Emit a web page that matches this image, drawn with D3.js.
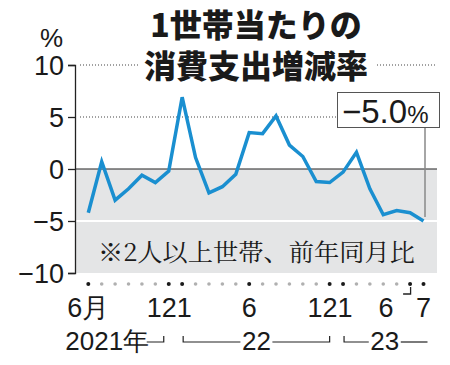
<!DOCTYPE html>
<html>
<head>
<meta charset="utf-8">
<script src="https://cdn.jsdelivr.net/npm/d3@7"></script>
<style>
  html, body { margin: 0; padding: 0; background: #fff; }
  svg { display: block; }
  .num { font-family: "Liberation Sans", Arial, sans-serif; fill: #1a1a1a; }
  .narrow { font-family: "Liberation Sans Narrow", "Arial Narrow", "Liberation Sans", sans-serif; fill: #1a1a1a; }
  .ja { font-family: "Noto Sans CJK JP", sans-serif; fill: #1a1a1a; }
</style>
</head>
<body>
<div id="chart"></div>
<script>
// 月（2021年6月〜2023年7月）
const months = [
  '21/6', '21/7', '21/8', '21/9', '21/10', '21/11', '21/12',
  '22/1', '22/2', '22/3', '22/4', '22/5', '22/6', '22/7', '22/8', '22/9', '22/10', '22/11', '22/12',
  '23/1', '23/2', '23/3', '23/4', '23/5', '23/6', '23/7'
];
// 消費支出 前年同月比（%）
const values = [
  -4.2, 0.7, -3.0, -1.9, -0.6, -1.3, -0.2,
  6.9, 1.1, -2.3, -1.7, -0.5, 3.5, 3.4, 5.1, 2.3, 1.2, -1.2, -1.3,
  -0.3, 1.6, -1.9, -4.4, -4.0, -4.2, -5.0
];
const yTicks = [10, 5, 0, -5, -10];
// 目盛りラベル（月）
const tickMonths = ['21/6', '21/12', '22/1', '22/6', '22/12', '23/1', '23/6', '23/7'];
const tickTexts  = ['6月', '12', '1', '6', '12', '1', '6', '7'];
// 年ラベル
const yearNames  = ['2021年', '22', '23'];
const yearStarts = ['21/6', '22/1', '23/1'];
const yearEnds   = ['21/12', '22/12', '23/7'];
const titleLines = ['1世帯当たりの', '消費支出増減率'];
const lastLabel = '−5.0';

const width = 450, height = 365;
const svg = d3.select('#chart').append('svg')
  .attr('width', width)
  .attr('height', height);

const x = d3.scalePoint().domain(months).range([88.3, 423.5]);
const y = d3.scaleLinear().domain([-10, 10]).range([273, 65]);
const left = 75, right = 437;

// 0以下の灰色の背景
svg.append('rect')
  .attr('x', left + 1).attr('y', y(0))
  .attr('width', right - left - 1).attr('height', y(-10) - y(0))
  .attr('fill', '#e4e5e6');

// 点線グリッド
svg.selectAll('.grid')
  .data(yTicks.filter(d => d > 0))
  .enter().append('line')
  .attr('x1', left + 5).attr('x2', right)
  .attr('y1', d => y(d)).attr('y2', d => y(d))
  .attr('stroke', '#444').attr('stroke-width', 1.2)
  .attr('stroke-dasharray', '1,2');

// -5 の白線
svg.append('line')
  .attr('x1', left + 1).attr('x2', right)
  .attr('y1', y(-5)).attr('y2', y(-5))
  .attr('stroke', '#fff').attr('stroke-width', 2);

// 0 の線
svg.append('line')
  .attr('x1', left).attr('x2', right)
  .attr('y1', y(0)).attr('y2', y(0))
  .attr('stroke', '#222').attr('stroke-width', 1.2);

// y軸
const yAxis = d3.axisLeft(y).tickValues(yTicks).tickSize(7).tickPadding(4);
const gy = svg.append('g')
  .attr('transform', `translate(${left},0)`)
  .call(yAxis);
gy.select('.domain').attr('stroke', '#222').attr('stroke-width', 1.3);
gy.selectAll('.tick line').attr('stroke', '#222').attr('stroke-width', 1.3);
gy.selectAll('.tick text')
  .attr('class', 'num')
  .attr('font-size', 27)
  .attr('dy', '0.36em');

svg.append('text')
  .attr('class', 'num')
  .attr('x', 63).attr('y', 47)
  .attr('text-anchor', 'end')
  .attr('font-size', 26)
  .text('%');

// タイトル（白地）
svg.append('rect')
  .attr('x', 139).attr('y', 46)
  .attr('width', 237).attr('height', 40)
  .attr('fill', '#fff');
svg.selectAll('.title')
  .data(titleLines)
  .enter().append('text')
  .attr('class', 'ja')
  .attr('x', 256)
  .attr('y', (d, i) => i === 0 ? 37 : 78)
  .attr('text-anchor', 'middle')
  .attr('font-size', 32)
  .attr('font-weight', 900)
  .text(d => d);

// 注記
svg.append('text')
  .attr('x', 98).attr('y', 261)
  .attr('font-family', '"Noto Serif CJK JP", "Noto Sans CJK JP", serif')
  .attr('font-size', 24)
  .attr('fill', '#1a1a1a')
  .attr('textLength', 317)
  .attr('lengthAdjust', 'spacingAndGlyphs')
  .text('※2人以上世帯、前年同月比');

// 折れ線
const line = d3.line()
  .x((d, i) => x(months[i]))
  .y(d => y(d));
svg.append('path')
  .datum(values)
  .attr('d', line)
  .attr('fill', 'none')
  .attr('stroke', '#1a8fd0')
  .attr('stroke-width', 3.5)
  .attr('stroke-linejoin', 'miter')
  .attr('stroke-linecap', 'butt');

// 最新値のラベル
const lastX = x(months[months.length - 1]);
const lastY = y(values[values.length - 1]);
svg.append('line')
  .attr('x1', lastX + 1.5).attr('x2', lastX + 1.5)
  .attr('y1', 128).attr('y2', lastY - 4)
  .attr('stroke', '#888').attr('stroke-width', 1.5);
svg.append('rect')
  .attr('x', 337.5).attr('y', 92.5)
  .attr('width', 102).attr('height', 35)
  .attr('fill', '#fff')
  .attr('stroke', '#555').attr('stroke-width', 1);
const lab = svg.append('text')
  .attr('class', 'num')
  .attr('x', 342).attr('y', 122.5);
lab.append('tspan').attr('font-size', 33).text(lastLabel);
lab.append('tspan').attr('font-size', 24).text('%');

// x軸の点
const tickSet = new Set(tickMonths);
svg.selectAll('.dot')
  .data(months)
  .enter().append('circle')
  .attr('cx', d => x(d))
  .attr('cy', 284)
  .attr('r', d => tickSet.has(d) ? 2 : 1.8)
  .attr('fill', d => tickSet.has(d) ? '#1a1a1a' : '#b0b0b0');

// 月ラベル
const shift = {'12': -5, '1': 2};
svg.selectAll('.mlab')
  .data(tickMonths)
  .enter().append('text')
  .attr('class', 'num')
  .attr('font-size', 27)
  .attr('y', 317)
  .attr('text-anchor', (d, i) => tickTexts[i] === '12' ? 'end' : 'middle')
  .attr('x', (d, i) => {
    const t = tickTexts[i];
    if (t === '12') return x(d) + 8;
    if (d === '23/6') return x(d) - 24;
    return x(d) + (shift[t] || 0);
  })
  .text((d, i) => tickTexts[i]);

// 6月と7月をつなぐカギ線
const x6 = x('23/6');
svg.append('path')
  .attr('d', `M${x6 + 0.5},287V294H${x6 - 7}`)
  .attr('fill', 'none')
  .attr('stroke', '#222').attr('stroke-width', 1.3);

// 年ラベルと範囲線
const yy = 342, ty = 336;
const yearG = svg.append('g').attr('stroke', '#222').attr('stroke-width', 1.2).attr('fill', 'none');
yearNames.forEach((name, i) => {
  const x0 = x(yearStarts[i]), x1 = x(yearEnds[i]);
  if (i === 0) {
    svg.append('text').attr('class', 'narrow')
      .attr('x', x0 - 23).attr('y', 350)
      .attr('font-size', 26)
      .text(name);
    const xe = x1 - 5;
    yearG.append('path').attr('d', `M${xe - 17},${yy}H${xe}V${ty}`);
  } else {
    const xa = x0 + 1;
    const xb = i === 1 ? x1 : x1 + 4;
    const mid = (xa + xb) / 2 + (i === 2 ? -1 : 0);
    const half = 16;
    svg.append('text').attr('class', 'narrow')
      .attr('x', mid).attr('y', 350)
      .attr('text-anchor', 'middle')
      .attr('font-size', 26)
      .text(name);
    yearG.append('path').attr('d', `M${xa},${ty}V${yy}H${mid - half}`);
    if (i === 1) {
      yearG.append('path').attr('d', `M${mid + half},${yy}H${xb}V${ty}`);
    } else {
      yearG.append('path').attr('d', `M${mid + half},${yy}H${xb}`);
    }
  }
});
</script>
</body>
</html>
